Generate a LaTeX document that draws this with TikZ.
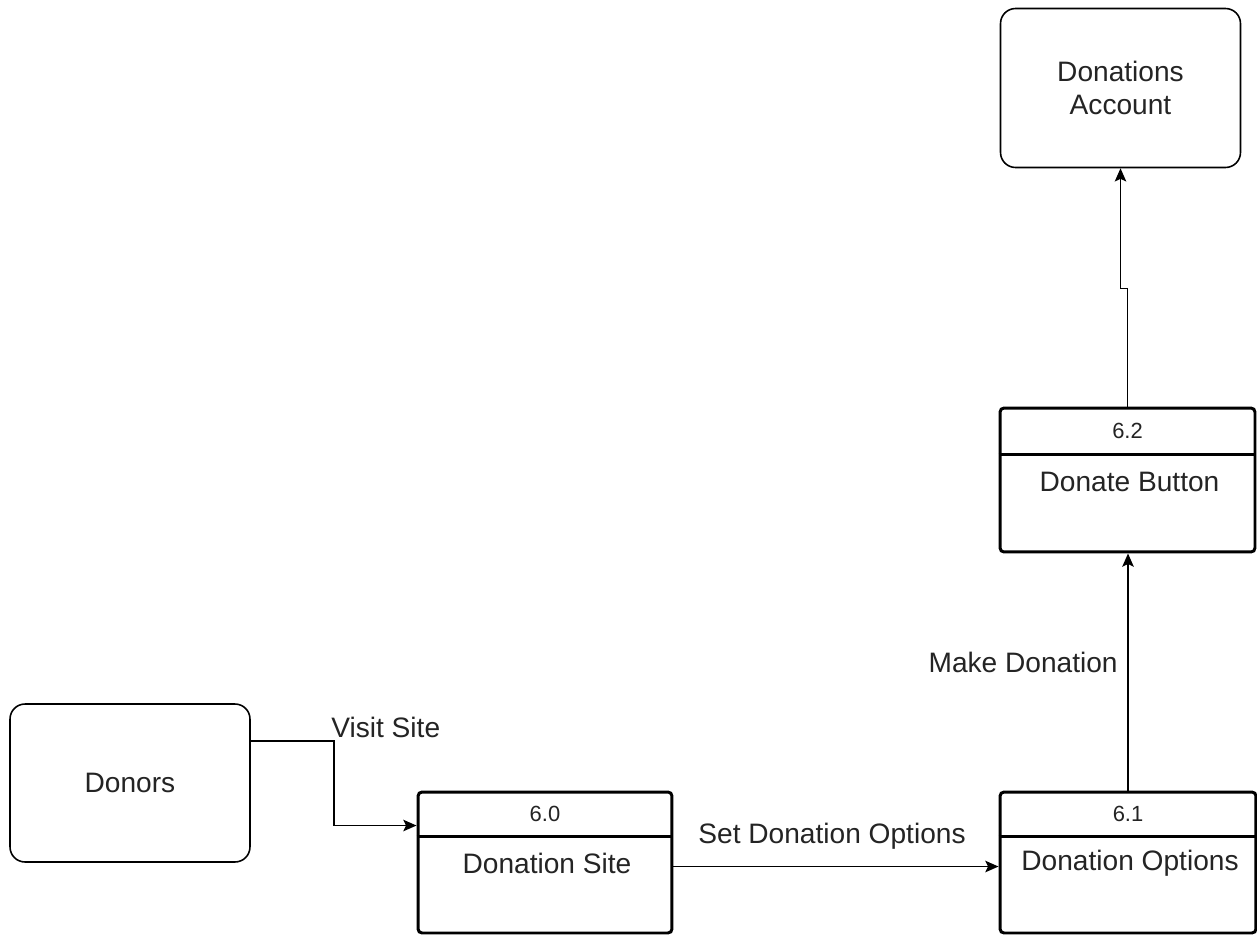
\documentclass[tikz,border=0pt]{standalone}
\usepackage{fontspec}
\setmainfont{Liberation Sans}
\usetikzlibrary{arrows.meta,calc}
\definecolor{ink}{rgb}{0.14,0.14,0.14}
\tikzset{
  entity/.style={draw=black, line width=0.9pt, rounded corners=0.3cm, inner sep=0pt},
  procbox/.style={draw=black, line width=1.7pt, rounded corners=0.08cm, inner sep=0pt,
    minimum height=2.82cm},
  divider/.style={line width=1.5pt},
  flow/.style={draw=black, line width=1pt, -{Stealth[length=7.5pt,width=6.5pt,inset=1.5pt]}},
  bigtxt/.style={text=ink, font=\fontsize{16}{18}\selectfont, inner sep=0pt},
  numtxt/.style={text=ink, font=\fontsize{12.5}{14}\selectfont, inner sep=0pt},
}
\begin{document}
\begin{tikzpicture}[x=0.02cm, y=-0.02cm]
  \useasboundingbox[fill=white] (0,0) rectangle (1257,936);

  % external entities
  \node[entity, minimum width=4.8cm, minimum height=3.18cm] (acct) at (1120.5,88) {};
  \node[bigtxt, align=center] (acctlbl) at (acct.center) {Donations\\[0.5pt]Account};
  \node[entity, minimum width=4.8cm, minimum height=3.16cm] (donors) at (130,783) {};
  \node[bigtxt] (donorslbl) at (donors.center) {Donors};

  % processes
  \node[procbox, minimum width=5.08cm] (p60) at (545,862.5) {};
  \node[procbox, minimum width=5.12cm] (p61) at (1128,862.5) {};
  \node[procbox, minimum width=5.1cm, minimum height=2.88cm] (p62) at (1127.5,480) {};

  \foreach \p/\n/\t/\d in {p60/6.0/Donation Site/46, p61/6.1/Donation Options/46, p62/6.2/Donate Button/48}{
    \draw[divider] ($(\p.north west)+(0,\d)$) -- ($(\p.north east)+(0,\d)$);
    \node[numtxt] (\p num) at ($(\p.north)+(0,\d/2)$) {\n};
    \node[bigtxt] (\p txt) at ($(\p.north)+(2,\d+27)$) {\t};
  }

  % data flows
  \draw[flow] ($(donors.north east)+(0,38)$) -- ++(83,0) |- ($(p60.north west)+(0,35)$);
  \node[bigtxt, anchor=west] (lvisit) at (331,727) {Visit Site};

  \draw[flow] ($(p60.north east)+(0,76)$) -- ($(p61.north west)+(0,76)$);
  \node[bigtxt] (lset) at (832,836) {Set Donation Options};

  \draw[flow] (p61.north) -- (p61.north |- p62.south);
  \node[bigtxt, anchor=east] (lmake) at (1118,662) {Make Donation};

  \draw[flow] (p62.north) -- ++(0,-118) -| (acct.south);
\end{tikzpicture}
\end{document}
